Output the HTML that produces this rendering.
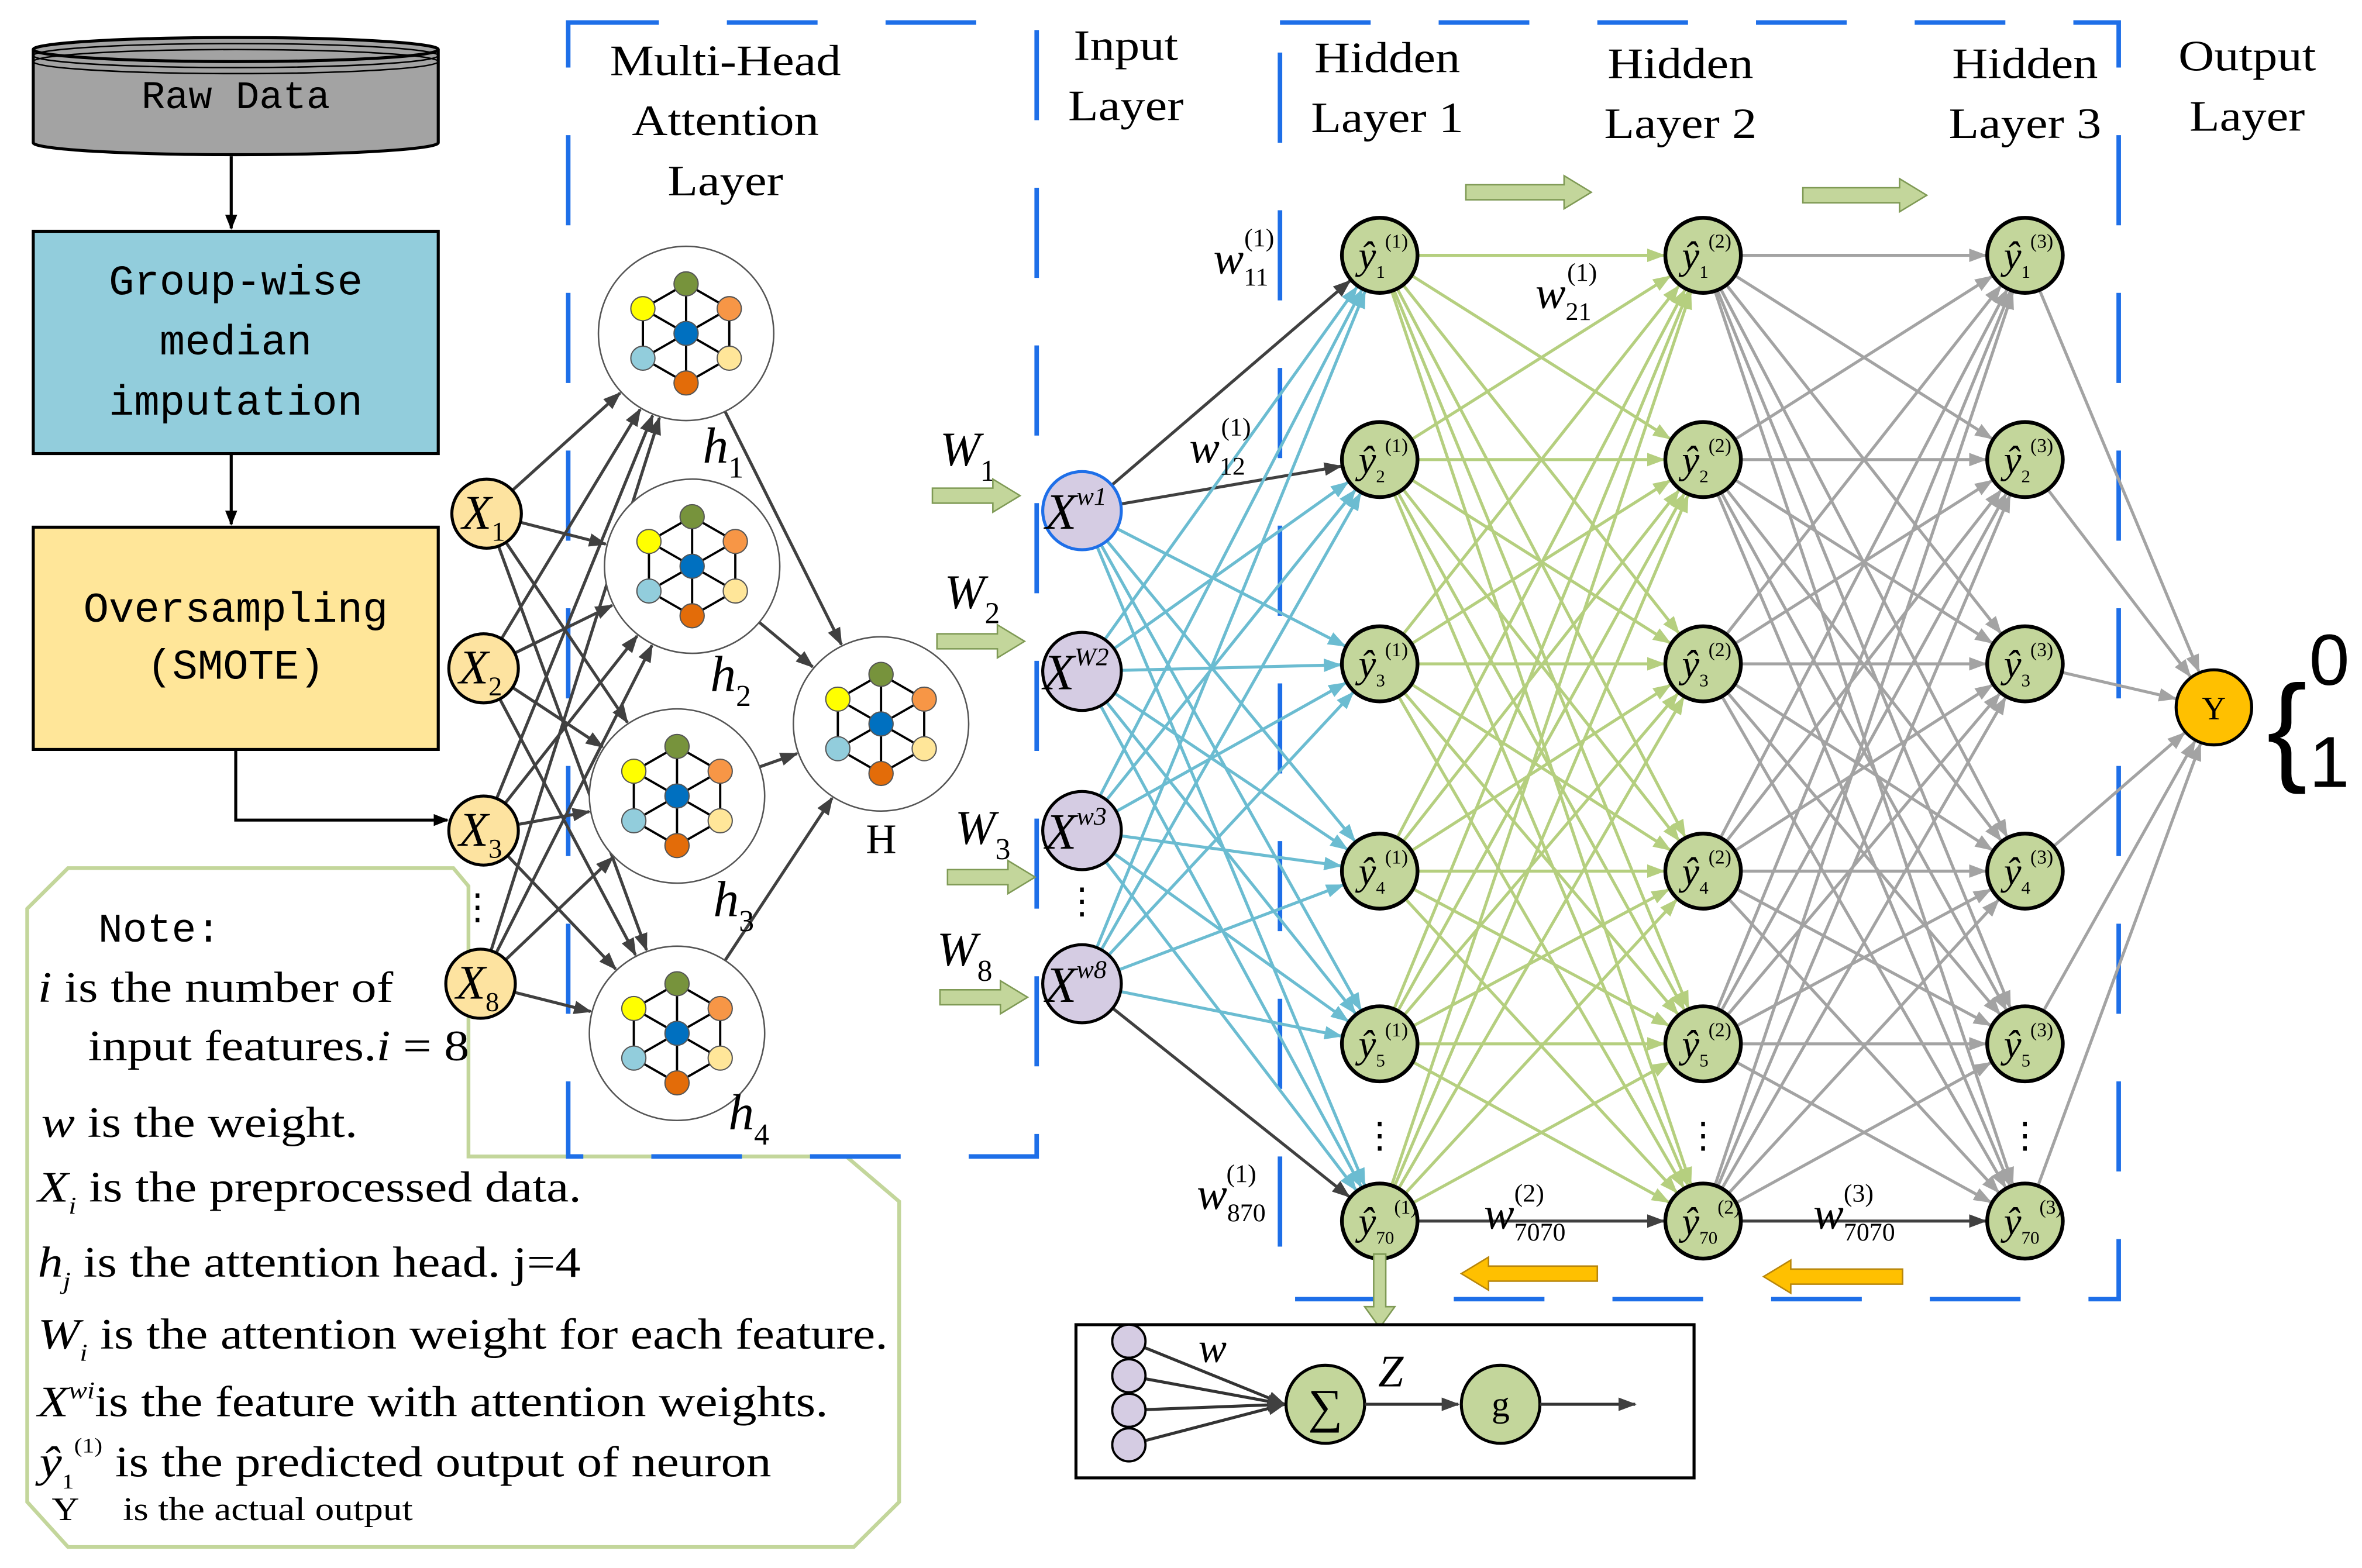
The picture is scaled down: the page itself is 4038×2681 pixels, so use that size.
<!DOCTYPE html>
<html><head><meta charset="utf-8"><style>
html,body{margin:0;padding:0;background:#fff;}
svg{display:block;}
text{font-family:"Liberation Serif",serif;fill:#000;}
.mono{font-family:"Liberation Mono",monospace;}
</style></head><body>
<svg id="s" width="4038" height="2681" viewBox="0 0 1563 1044" preserveAspectRatio="none" xmlns="http://www.w3.org/2000/svg">
<defs>
<marker id="mk" markerWidth="10" markerHeight="8" refX="9" refY="4" orient="auto" markerUnits="userSpaceOnUse"><path d="M0,0L10,4L0,8z" fill="#000"/></marker>
<marker id="md" markerWidth="12" markerHeight="9" refX="11" refY="4.5" orient="auto" markerUnits="userSpaceOnUse"><path d="M0,0L12,4.5L0,9z" fill="#404040"/></marker>
<marker id="mc" markerWidth="12" markerHeight="9" refX="11" refY="4.5" orient="auto" markerUnits="userSpaceOnUse"><path d="M0,0L12,4.5L0,9z" fill="#6bbcd1"/></marker>
<marker id="mg" markerWidth="12" markerHeight="9" refX="11" refY="4.5" orient="auto" markerUnits="userSpaceOnUse"><path d="M0,0L12,4.5L0,9z" fill="#b5cf7f"/></marker>
<marker id="my" markerWidth="12" markerHeight="9" refX="11" refY="4.5" orient="auto" markerUnits="userSpaceOnUse"><path d="M0,0L12,4.5L0,9z" fill="#a3a3a3"/></marker>
</defs>

<!-- left pipeline -->
<path d="M22,33 v62 a134,8 0 0 0 268,0 v-62" fill="#a3a3a3" stroke="#000" stroke-width="2"/>
<ellipse cx="156" cy="33" rx="134" ry="8" fill="#a3a3a3" stroke="#000" stroke-width="2"/>
<ellipse cx="156" cy="37" rx="134" ry="8" fill="none" stroke="#000" stroke-width="1"/>
<ellipse cx="156" cy="41" rx="134" ry="8" fill="none" stroke="#000" stroke-width="1"/>
<text x="156" y="72" class="mono" font-size="26" text-anchor="middle">Raw Data</text>
<line x1="153" y1="104" x2="153" y2="152" stroke="#000" stroke-width="2" marker-end="url(#mk)"/>
<rect x="22" y="154" width="268" height="148" fill="#92cddc" stroke="#000" stroke-width="2"/>
<text class="mono" font-size="28" text-anchor="middle"><tspan x="156" y="196">Group-wise</tspan><tspan x="156" y="236">median</tspan><tspan x="156" y="276">imputation</tspan></text>
<line x1="153" y1="302" x2="153" y2="349" stroke="#000" stroke-width="2" marker-end="url(#mk)"/>
<rect x="22" y="351" width="268" height="148" fill="#ffe699" stroke="#000" stroke-width="2"/>
<text class="mono" font-size="28" text-anchor="middle"><tspan x="156" y="414">Oversampling</tspan><tspan x="156" y="452">(SMOTE)</tspan></text>
<polyline points="156,499 156,546 296,546" fill="none" stroke="#000" stroke-width="2" marker-end="url(#mk)"/>

<!-- note box -->
<path d="M45,578 L300,578 L310,590 L310,770 L560,770 L595,800 L595,1000 L565,1030 L45,1030 L18,1000 L18,605 Z" fill="none" stroke="#c3d69b" stroke-width="2.5"/>
<text x="65" y="627" class="mono" font-size="27">Note:</text>
<g transform="translate(25,0) scale(1.15,1) translate(-25,0)">
<text font-size="29"><tspan x="25" y="667" font-style="italic">i</tspan><tspan> is the number of</tspan></text>
<text font-size="29"><tspan x="54" y="706">input features.</tspan><tspan font-style="italic">i</tspan><tspan> = 8</tspan></text>
<text font-size="29"><tspan x="27" y="757" font-style="italic">w</tspan><tspan> is the weight.</tspan></text>
<text font-size="29"><tspan x="25" y="800" font-style="italic">X</tspan><tspan font-size="16" dy="8" font-style="italic">i</tspan><tspan dy="-8">  is the preprocessed data.</tspan></text>
<text font-size="29"><tspan x="25" y="850" font-style="italic">h</tspan><tspan font-size="16" dy="8" font-style="italic">j</tspan><tspan dy="-8">  is the attention head.     j=4</tspan></text>
<text font-size="29"><tspan x="25" y="898" font-style="italic">W</tspan><tspan font-size="16" dy="8" font-style="italic">i</tspan><tspan dy="-8">  is the attention weight for each feature.</tspan></text>
<text font-size="29"><tspan x="25" y="943" font-style="italic">X</tspan><tspan font-size="16" dy="-12" font-style="italic">wi</tspan><tspan dy="12">is the feature with attention weights.</tspan></text>
<text font-size="29"><tspan x="26" y="983" font-style="italic">ŷ</tspan><tspan font-size="14" dy="8">1</tspan><tspan font-size="14" dy="-24">(1)</tspan><tspan dy="16"> is the predicted output of neuron</tspan></text>
<text font-size="22"><tspan x="33" y="1012">Y</tspan><tspan x="74" y="1012">is the actual output</tspan></text>
</g>

<!-- dashed boxes -->
<rect x="376" y="15" width="310" height="755" fill="none" stroke="#1e6fe8" stroke-width="3" stroke-dasharray="60,45"/>
<rect x="847" y="15" width="555" height="850" fill="none" stroke="#1e6fe8" stroke-width="3" stroke-dasharray="60,45"/>

<!-- headers -->
<g font-size="29" text-anchor="middle">
<text transform="translate(480,0) scale(1.13,1)"><tspan x="0" y="50">Multi-Head</tspan><tspan x="0" y="90">Attention</tspan><tspan x="0" y="130">Layer</tspan></text>
<text transform="translate(745,0) scale(1.13,1)"><tspan x="0" y="40">Input</tspan><tspan x="0" y="80">Layer</tspan></text>
<text transform="translate(918,0) scale(1.13,1)"><tspan x="0" y="48">Hidden</tspan><tspan x="0" y="88">Layer 1</tspan></text>
<text transform="translate(1112,0) scale(1.13,1)"><tspan x="0" y="52">Hidden</tspan><tspan x="0" y="92">Layer 2</tspan></text>
<text transform="translate(1340,0) scale(1.13,1)"><tspan x="0" y="52">Hidden</tspan><tspan x="0" y="92">Layer 3</tspan></text>
<text transform="translate(1487,0) scale(1.13,1)"><tspan x="0" y="47">Output</tspan><tspan x="0" y="87">Layer</tspan></text>
</g>

<g id="lines"></g>
<g id="nodes"></g>

<!-- dots -->
<text x="316" y="612" font-size="24" text-anchor="middle">⋮</text>
<text x="716" y="608" font-size="24" text-anchor="middle">⋮</text>
<text x="913" y="764" font-size="24" text-anchor="middle">⋮</text>
<text x="1127" y="764" font-size="24" text-anchor="middle">⋮</text>
<text x="1340" y="764" font-size="24" text-anchor="middle">⋮</text>

<!-- labels -->
<text font-size="30" font-style="italic" x="803" y="182">w<tspan font-size="17" font-style="normal" dy="8">11</tspan><tspan font-size="17" font-style="normal" dx="-16" dy="-26">(1)</tspan></text>
<text font-size="30" font-style="italic" x="1016" y="205">w<tspan font-size="17" font-style="normal" dy="8">21</tspan><tspan font-size="17" font-style="normal" dx="-16" dy="-26">(1)</tspan></text>
<text font-size="30" font-style="italic" x="787" y="308">w<tspan font-size="17" font-style="normal" dy="8">12</tspan><tspan font-size="17" font-style="normal" dx="-16" dy="-26">(1)</tspan></text>
<text font-size="30" font-style="italic" x="792" y="805">w<tspan font-size="17" font-style="normal" dy="8">870</tspan><tspan font-size="17" font-style="normal" dx="-26" dy="-26">(1)</tspan></text>
<text font-size="30" font-style="italic" x="982" y="818">w<tspan font-size="17" font-style="normal" dy="8">7070</tspan><tspan font-size="17" font-style="normal" dx="-34" dy="-26">(2)</tspan></text>
<text font-size="30" font-style="italic" x="1200" y="818">w<tspan font-size="17" font-style="normal" dy="8">7070</tspan><tspan font-size="17" font-style="normal" dx="-34" dy="-26">(3)</tspan></text>
<text font-size="32" font-style="italic" x="622" y="310">W<tspan font-size="20" font-style="normal" dy="10">1</tspan></text>
<text font-size="32" font-style="italic" x="625" y="405">W<tspan font-size="20" font-style="normal" dy="10">2</tspan></text>
<text font-size="32" font-style="italic" x="632" y="562">W<tspan font-size="20" font-style="normal" dy="10">3</tspan></text>
<text font-size="32" font-style="italic" x="620" y="643">W<tspan font-size="20" font-style="normal" dy="10">8</tspan></text>
<text font-size="34" font-style="italic" x="465" y="308">h<tspan font-size="20" font-style="normal" dy="10">1</tspan></text>
<text font-size="34" font-style="italic" x="470" y="460">h<tspan font-size="20" font-style="normal" dy="10">2</tspan></text>
<text font-size="34" font-style="italic" x="472" y="610">h<tspan font-size="20" font-style="normal" dy="10">3</tspan></text>
<text font-size="34" font-style="italic" x="482" y="752">h<tspan font-size="20" font-style="normal" dy="10">4</tspan></text>
<text font-size="28" x="573" y="568">H</text>

<!-- block arrows -->
<g fill="#c3d69b" stroke="#7f9a55" stroke-width="1">
<path d="M970,123 h65 v-6 l18,11 l-18,11 v-6 h-65z"/>
<path d="M1193,125 h64 v-6 l18,11 l-18,11 v-6 h-64z"/>
<path d="M617,325 h40 v-6 l18,11 l-18,11 v-6 h-40z"/>
<path d="M620,422 h40 v-6 l18,11 l-18,11 v-6 h-40z"/>
<path d="M627,579 h40 v-6 l18,11 l-18,11 v-6 h-40z"/>
<path d="M622,659 h40 v-6 l18,11 l-18,11 v-6 h-40z"/>
<path d="M909,835 h8 v35 h6 l-10,14 l-10,-14 h6z"/>
</g>
<g fill="#ffc000" stroke="#b8860b" stroke-width="1">
<path d="M1057,843 h-72 v-6 l-18,11 l18,11 v-6 h72z"/>
<path d="M1259,845 h-74 v-6 l-18,11 l18,11 v-6 h74z"/>
</g>

<!-- output -->
<circle cx="1465" cy="471" r="25" fill="#ffc000" stroke="#000" stroke-width="2"/>
<text x="1465" y="479" font-size="22" text-anchor="middle">Y</text>
<text x="1500" y="512" font-size="80" style="font-family:'Liberation Sans',sans-serif">{</text>
<text x="1528" y="456" font-size="48" style="font-family:'Liberation Sans',sans-serif">0</text>
<text x="1528" y="524" font-size="48" style="font-family:'Liberation Sans',sans-serif">1</text>

<!-- neuron box -->
<rect x="712" y="882" width="409" height="102" fill="#fff" stroke="#000" stroke-width="2"/>
<g id="nb"></g>
<circle cx="877" cy="935" r="26" fill="#c3d69b" stroke="#000" stroke-width="2"/>
<text x="877" y="947" font-size="32" text-anchor="middle">∑</text>
<circle cx="993" cy="935" r="26" fill="#c3d69b" stroke="#000" stroke-width="2"/>
<text x="993" y="943" font-size="24" text-anchor="middle">g</text>
<line x1="903" y1="935" x2="965" y2="935" stroke="#333" stroke-width="2" marker-end="url(#md)"/>
<line x1="1019" y1="935" x2="1082" y2="935" stroke="#333" stroke-width="2" marker-end="url(#md)"/>
<text x="793" y="907" font-size="28" font-style="italic">w</text>
<text x="912" y="923" font-size="30" font-style="italic">Z</text>
</svg>
<script>
const NS="http://www.w3.org/2000/svg";
const L=document.getElementById('lines'),N=document.getElementById('nodes'),NB=document.getElementById('nb');
function ln(g,x1,y1,x2,y2,c,w,m,r,r2){if(r2===undefined)r2=r;const dx=x2-x1,dy=y2-y1,d=Math.hypot(dx,dy);const e=document.createElementNS(NS,'line');
e.setAttribute('x1',x1+dx/d*(r||0));e.setAttribute('y1',y1+dy/d*(r||0));e.setAttribute('x2',x2-dx/d*(r2||0));e.setAttribute('y2',y2-dy/d*(r2||0));
e.setAttribute('stroke',c);e.setAttribute('stroke-width',w);if(m)e.setAttribute('marker-end','url(#'+m+')');g.appendChild(e);}
function circ(g,x,y,r,f,s,sw){const e=document.createElementNS(NS,'circle');e.setAttribute('cx',x);e.setAttribute('cy',y);e.setAttribute('r',r);e.setAttribute('fill',f);e.setAttribute('stroke',s);e.setAttribute('stroke-width',sw||2);g.appendChild(e);}
function tx(g,x,y,html,sz,anchor){const e=document.createElementNS(NS,'text');e.setAttribute('x',x);e.setAttribute('y',y);e.setAttribute('font-size',sz);if(anchor)e.setAttribute('text-anchor',anchor);e.innerHTML=html;g.appendChild(e);}
const X=[[322,342],[320,445],[320,553],[318,655]];
const Hd=[[454,222],[458,377],[448,530],[448,688]];const HH=[583,482];
const I=[[716,340],[716,447],[716,553],[716,655]];
const ys=[170,306,442,580,695,813];const hx=[913,1127,1340];
X.forEach(a=>Hd.forEach(b=>ln(L,a[0],a[1],b[0],b[1],'#404040',2,'md',23,59)));
Hd.forEach(b=>ln(L,b[0],b[1],HH[0],HH[1],'#404040',2,'md',58,59));
I.forEach(a=>ys.forEach((y,j)=>{const dk=(j==0&&a==I[0])||(j==1&&a==I[0])||(j==5&&a==I[3]);ln(L,a[0],a[1],hx[0],y,dk?'#404040':'#6bbcd1',2,dk?'md':'mc',26)}));
ys.forEach(y1=>ys.forEach(y2=>ln(L,hx[0],y1,hx[1],y2,y1==y2&&y1==813?'#404040':'#b5cf7f',2,y1==y2&&y1==813?'md':'mg',26)));
ys.forEach(y1=>ys.forEach(y2=>ln(L,hx[1],y1,hx[2],y2,y1==y2&&y1==813?'#404040':'#a3a3a3',2,y1==y2&&y1==813?'md':'my',26)));
ys.forEach(y=>ln(L,hx[2],y,1465,471,'#a3a3a3',2,'my',26));
const cols=['#77933c','#f79646','#ffe699','#e36c09','#92cddc','#ffff00'];
function head(cx,cy,r){circ(N,cx,cy,r,'#fff','#555',1);const R=33,p=[];for(let k=0;k<6;k++){const a=-Math.PI/2+k*Math.PI/3;p.push([cx+R*Math.cos(a),cy+R*Math.sin(a)]);}
for(let k=0;k<6;k++){ln(N,p[k][0],p[k][1],p[(k+1)%6][0],p[(k+1)%6][1],'#000',1.5);ln(N,cx,cy,p[k][0],p[k][1],'#000',1.5);}
p.forEach((q,k)=>circ(N,q[0],q[1],8,cols[k],'#555',0.8));circ(N,cx,cy,8,'#0070c0','#555',0.8);}
Hd.forEach(h=>head(h[0],h[1],58));head(HH[0],HH[1],58);
const sub=['1','2','3','8'];
X.forEach((a,i)=>{circ(N,a[0],a[1],23,'#fde3a0','#000',2);tx(N,a[0]-2,a[1]+10,'<tspan font-style="italic">X</tspan><tspan font-size="18" dy="8">'+sub[i]+'</tspan>',32,'middle');});
const isup=['w1','W2','w3','w8'];
I.forEach((a,i)=>{circ(N,a[0],a[1],26,'#d5cce3',i==0?'#1e6fe8':'#000',2);tx(N,a[0]-4,a[1]+12,'<tspan font-style="italic">X</tspan><tspan font-size="17" font-style="italic" dy="-16">'+isup[i]+'</tspan>',34,'middle');});
const ss=['1','2','3','4','5','70'];
hx.forEach((x,l)=>ys.forEach((y,j)=>{circ(N,x,y,25,'#c3d69b','#000',2.5);tx(N,x-14,y+9,'<tspan font-style="italic">ŷ</tspan><tspan font-size="12" dy="6">'+ss[j]+'</tspan><tspan font-size="13" dy="-20">('+(l+1)+')</tspan>',26);}));
[893,916,939,962].forEach(y=>{ln(NB,747,y,850,935,'#333',2,'md',0);circ(NB,747,y,11,'#d5cce3','#000',1.5);});
</script>
</body></html>
